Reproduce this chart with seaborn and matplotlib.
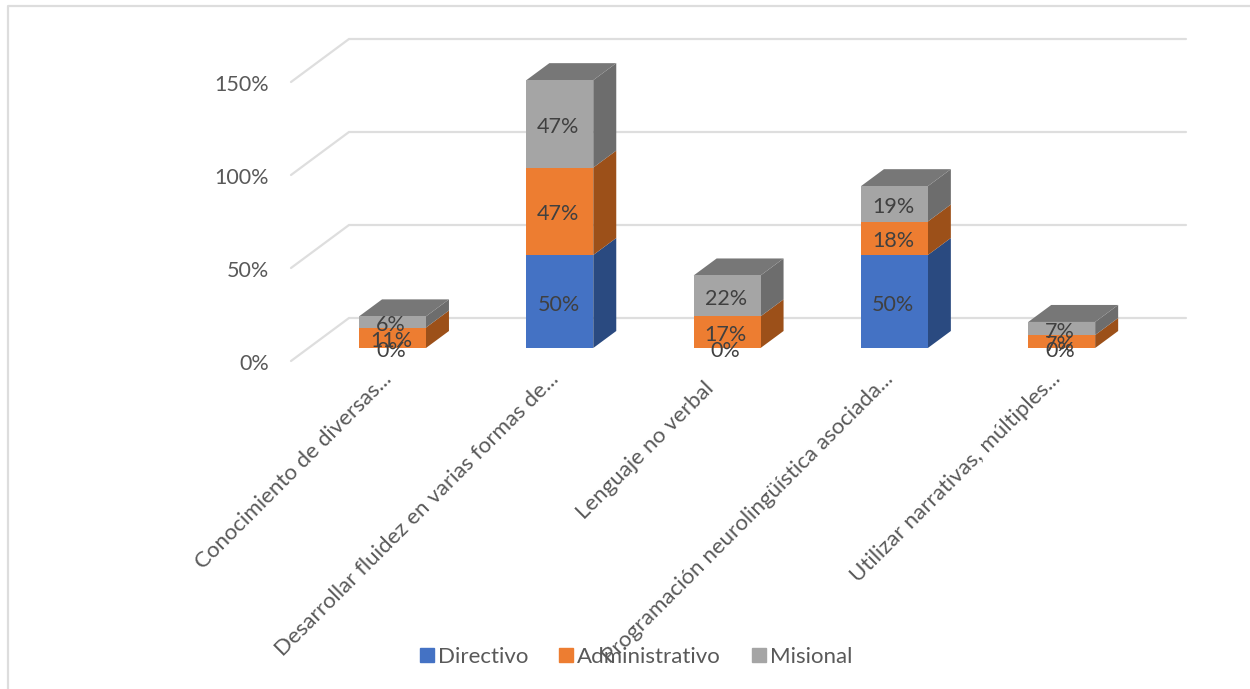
import matplotlib
matplotlib.use("Agg")
import matplotlib.pyplot as plt
from matplotlib.transforms import ScaledTranslation
from matplotlib.lines import Line2D
import seaborn as sns
import numpy as np
import pandas as pd

categories = ["Conocimiento de diversas...",
              "Desarrollar fluidez en varias formas de...",
              "Lenguaje no verbal",
              "Programación neurolingüística asociada...",
              "Utilizar narrativas, múltiples..."]
directivo = [0.00, 0.50, 0.00, 0.50, 0.00]
administrativo = [0.11, 0.47, 0.17, 0.18, 0.07]
misional = [0.06, 0.47, 0.22, 0.19, 0.07]
series_names = ["Directivo", "Administrativo", "Misional"]
front_colors = ["#4472C4", "#ED7D31", "#A5A5A5"]
side_colors = ["#2A4A80", "#9C5019", "#6D6D6D"]
top_color = "#777777"
y_ticks = [0, 0.5, 1.0, 1.5]
y_labels = ["0%", "50%", "100%", "150%"]

W, H = 1250, 689
sns.set_style("white")
plt.rcParams["font.family"] = ["Lato", "DejaVu Sans"]
text_gray = "#595959"
label_gray = "#404040"
grid_gray = "#DEDEDE"

fig = plt.figure(figsize=(W / 100, H / 100), dpi=100, facecolor="white")
left, right, bottom, top = 291, 1186, 348, 69
ax = fig.add_axes([left / W, 1 - bottom / H, (right - left) / W, (bottom - top) / H])

values = [directivo, administrativo, misional]
base = np.zeros(len(categories))
bar_w = 0.40
px_x = 167.3
px_y = 186.0
dx, dy = 23 / px_x, 17 / px_y
positions = np.arange(len(categories))

for name, vals, fc, sc in zip(series_names, values, front_colors, side_colors):
    df = pd.DataFrame({"cat": categories, "v": vals})
    sns.barplot(data=df, x="cat", y="v", color=fc, saturation=1, width=bar_w,
                bottom=base, label=name, errorbar=None, ax=ax, zorder=4,
                linewidth=0, legend=False)
    arr = np.array(vals)
    for p, b, h in zip(positions, base, arr):
        if h <= 0:
            continue
        xr = p + bar_w / 2
        ax.fill([xr, xr + dx, xr + dx, xr], [b, b + dy, b + h + dy, b + h],
                color=sc, lw=0, zorder=3, clip_on=False)
    base = base + arr

for p, t in zip(positions, base):
    xl, xr = p - bar_w / 2, p + bar_w / 2
    ax.fill([xl, xr, xr + dx, xl + dx], [t, t, t + dy, t + dy],
            color=top_color, lw=0, zorder=3, clip_on=False)

for cont, vals in zip(ax.containers, values):
    anns = ax.bar_label(cont, labels=[f"{v:.0%}" for v in vals], label_type="center",
                        color=label_gray, fontsize=15.5, zorder=6)
    for a in anns:
        a.xyann = (-1.0, -2.2)

ax.set_xlim((left - 392.5) / px_x, (right - 392.5) / px_x)
ax.set_ylim(0, (bottom - top) / px_y)
ax.set_xlabel("")
ax.set_ylabel("")
sns.despine(ax=ax, left=True, bottom=True, top=True, right=True)

back_dy = 30 / px_y
front_dy = -13 / px_y
back_x = (349 - 392.5) / px_x
front_x = (291 - 392.5) / px_x
end_x = (1186 - 392.5) / px_x
for t in y_ticks:
    ax.plot([front_x, back_x, end_x], [t + front_dy, t + back_dy, t + back_dy],
            color=grid_gray, lw=1.6, zorder=1, clip_on=False, solid_joinstyle="miter")

ax.set_yticks(y_ticks)
ax.set_yticklabels(y_labels, color=text_gray, fontsize=15.5)
ax.tick_params(axis="y", length=0, pad=16)
shift = ScaledTranslation(0, -0.14, fig.dpi_scale_trans)
for lab in ax.get_yticklabels():
    lab.set_transform(lab.get_transform() + shift)

ax.set_xticks(positions)
ax.set_xticklabels(categories, rotation=45, ha="right", rotation_mode="anchor",
                   color=text_gray, fontsize=16)
ax.tick_params(axis="x", length=0, pad=22)
for lab in ax.get_xticklabels():
    no_ellipsis = not lab.get_text().endswith("...")
    ox, oy = (-0.24, 0.0) if no_ellipsis else (-0.11, 0.10)
    lab.set_transform(lab.get_transform() + ScaledTranslation(ox, oy, fig.dpi_scale_trans))

handles = [Line2D([], [], marker="s", ls="", color=c, markersize=9.5) for c in front_colors]
leg = fig.legend(handles, series_names, loc="center", ncol=3, frameon=False,
                 bbox_to_anchor=(634 / W, 1 - 657 / H), fontsize=16, labelcolor=text_gray,
                 handletextpad=0.0, columnspacing=1.21, handlelength=1.0)

fig.add_artist(Line2D([8 / W, 8 / W, 1], [0, 1 - 6 / H, 1 - 6 / H], color="#DDDDDD", lw=1.6,
                      transform=fig.transFigure))

fig.savefig("out.png", dpi=100)
